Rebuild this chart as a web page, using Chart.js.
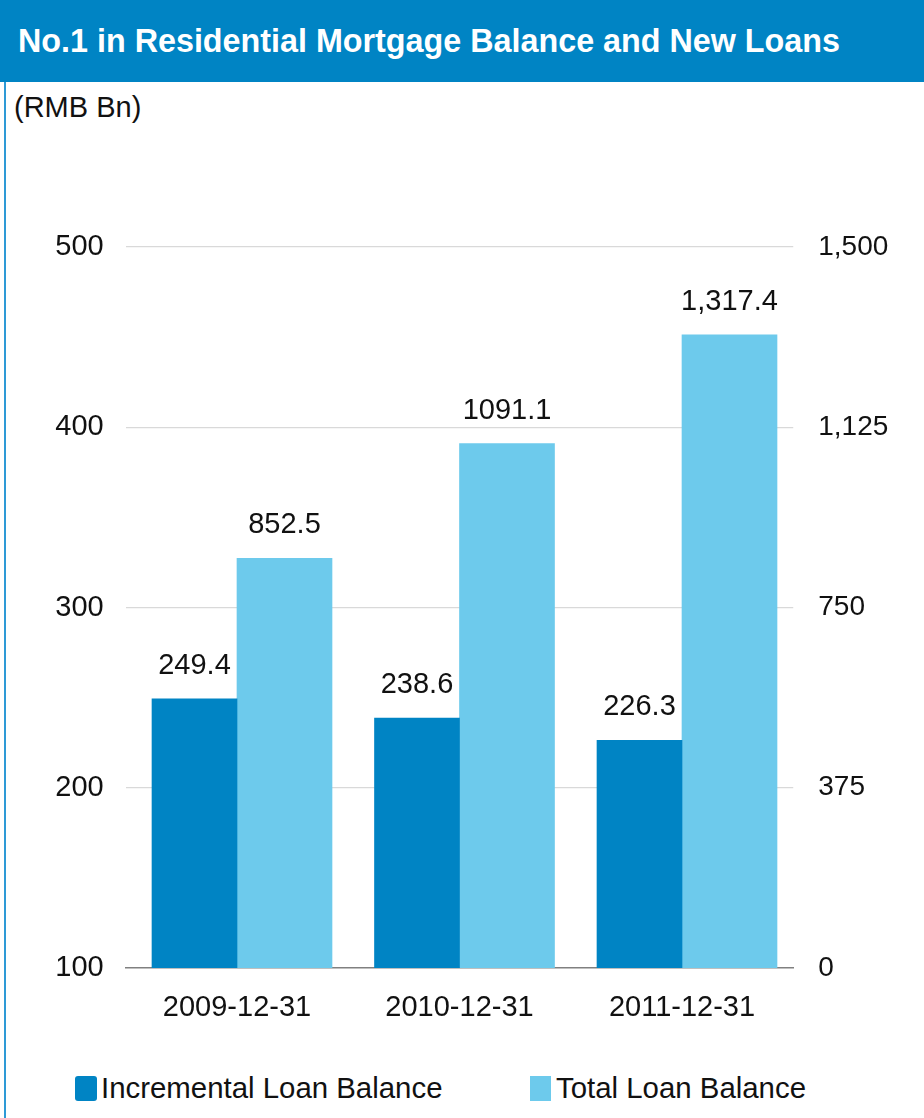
<!DOCTYPE html>
<html>
<head>
<meta charset="utf-8">
<title>Residential Mortgage</title>
<script src="https://cdn.jsdelivr.net/npm/chart.js@4"></script>
<style>
  html, body { margin: 0; padding: 0; background: #fff; }
  body { width: 924px; height: 1118px; position: relative; overflow: hidden;
         font-family: "Liberation Sans", Arial, sans-serif; color: #111; }
  #header { position: absolute; left: 0; top: 0; width: 924px; height: 82px; background: #0084c4; }
  #header h1 { margin: 0; position: absolute; left: 18px; top: 22px; font-size: 32.3px; line-height: 38px;
               font-weight: bold; color: #fff; white-space: nowrap; }
  #edge { position: absolute; left: 4px; top: 82px; width: 2px; height: 1036px; background: #2e9ad6; }
  #unit { position: absolute; left: 14px; top: 89px; font-size: 29px; line-height: 36px; }
  #wrap { position: absolute; left: 0; top: 130px; width: 924px; height: 900px; }
  .key { position: absolute; top: 1070px; font-size: 29.4px; line-height: 36px; white-space: nowrap; }
  .key i { position: absolute; top: 6px; height: 25px; border-radius: 3px; }
</style>
</head>
<body>
<div id="header"><h1>No.1 in Residential Mortgage Balance and New Loans</h1></div>
<div id="edge"></div>
<div id="unit">(RMB Bn)</div>
<div id="wrap"><canvas id="mortgageChart"></canvas></div>
<div class="key" style="left:75px"><i style="left:0;width:22px;background:#0084c4"></i><span style="margin-left:26px">Incremental Loan Balance</span></div>
<div class="key" style="left:530px"><i style="left:0;width:21px;border-radius:0;background:#6dcaec"></i><span style="margin-left:26px">Total Loan Balance</span></div>

<script>
// years on the x axis
const categories = ['2009-12-31', '2010-12-31', '2011-12-31'];
// new loans, left axis
const incremental = [249.4, 238.6, 226.3];
const incrementalLabels = ['249.4', '238.6', '226.3'];
// outstanding balance, right axis
const total = [852.5, 1091.1, 1317.4];
const totalLabels = ['852.5', '1091.1', '1,317.4'];
const leftTicks = [100, 200, 300, 400, 500];
const rightTicks = [0, 375, 750, 1125, 1500];

const FONT = '"Liberation Sans", Arial, sans-serif';
const DARK = '#0084c4';
const LIGHT = '#6dcaec';

// value text above each bar
const barLabels = {
  id: 'barLabels',
  afterDatasetsDraw(chart) {
    const ctx = chart.ctx;
    ctx.save();
    ctx.font = '29px ' + FONT;
    ctx.fillStyle = '#111';
    ctx.textAlign = 'center';
    ctx.textBaseline = 'middle';
    chart.data.datasets.forEach((ds, i) => {
      chart.getDatasetMeta(i).data.forEach((bar, j) => {
        ctx.fillText(ds.valueLabels[j], bar.x, bar.y - 33);
      });
    });
    ctx.restore();
  }
};

new Chart(document.getElementById('mortgageChart'), {
  type: 'bar',
  data: {
    labels: categories,
    datasets: [
      {
        label: 'Incremental Loan Balance',
        data: incremental,
        valueLabels: incrementalLabels,
        yAxisID: 'yLeft',
        backgroundColor: DARK,
        barThickness: 85
      },
      {
        label: 'Total Loan Balance',
        data: total,
        valueLabels: totalLabels,
        yAxisID: 'yRight',
        backgroundColor: LIGHT,
        barThickness: 95
      }
    ]
  },
  options: {
    responsive: true,
    maintainAspectRatio: false,
    animation: false,
    layout: { padding: { top: 117, left: 0, right: 0, bottom: 0 } },
    plugins: {
      legend: { display: false },
      tooltip: { enabled: false }
    },
    scales: {
      x: {
        grid: { display: false },
        border: { display: true, color: '#808080', width: 1.5 },
        ticks: { color: '#111', font: { family: FONT, size: 29 }, padding: 15 },
        afterFit(scale) { scale.height = 62; }
      },
      yLeft: {
        position: 'left',
        min: 100,
        max: 500,
        afterBuildTicks(scale) { scale.ticks = leftTicks.map(v => ({ value: v })); },
        grid: {
          drawTicks: false,
          color: c => c.tick.value === 100 ? 'rgba(0,0,0,0)' : '#d9d9d9',
          lineWidth: 1.2
        },
        border: { display: false },
        ticks: { color: '#111', font: { family: FONT, size: 29 }, padding: 22 },
        afterFit(scale) { scale.width = 125.75; }
      },
      yRight: {
        position: 'right',
        min: 0,
        max: 1500,
        afterBuildTicks(scale) { scale.ticks = rightTicks.map(v => ({ value: v })); },
        grid: { display: false, drawTicks: false },
        border: { display: false },
        ticks: {
          color: '#111',
          font: { family: FONT, size: 28 },
          padding: 25,
          callback: v => v.toLocaleString('en-US')
        },
        afterFit(scale) { scale.width = 130.75; }
      }
    }
  },
  plugins: [barLabels]
});
</script>
</body>
</html>
